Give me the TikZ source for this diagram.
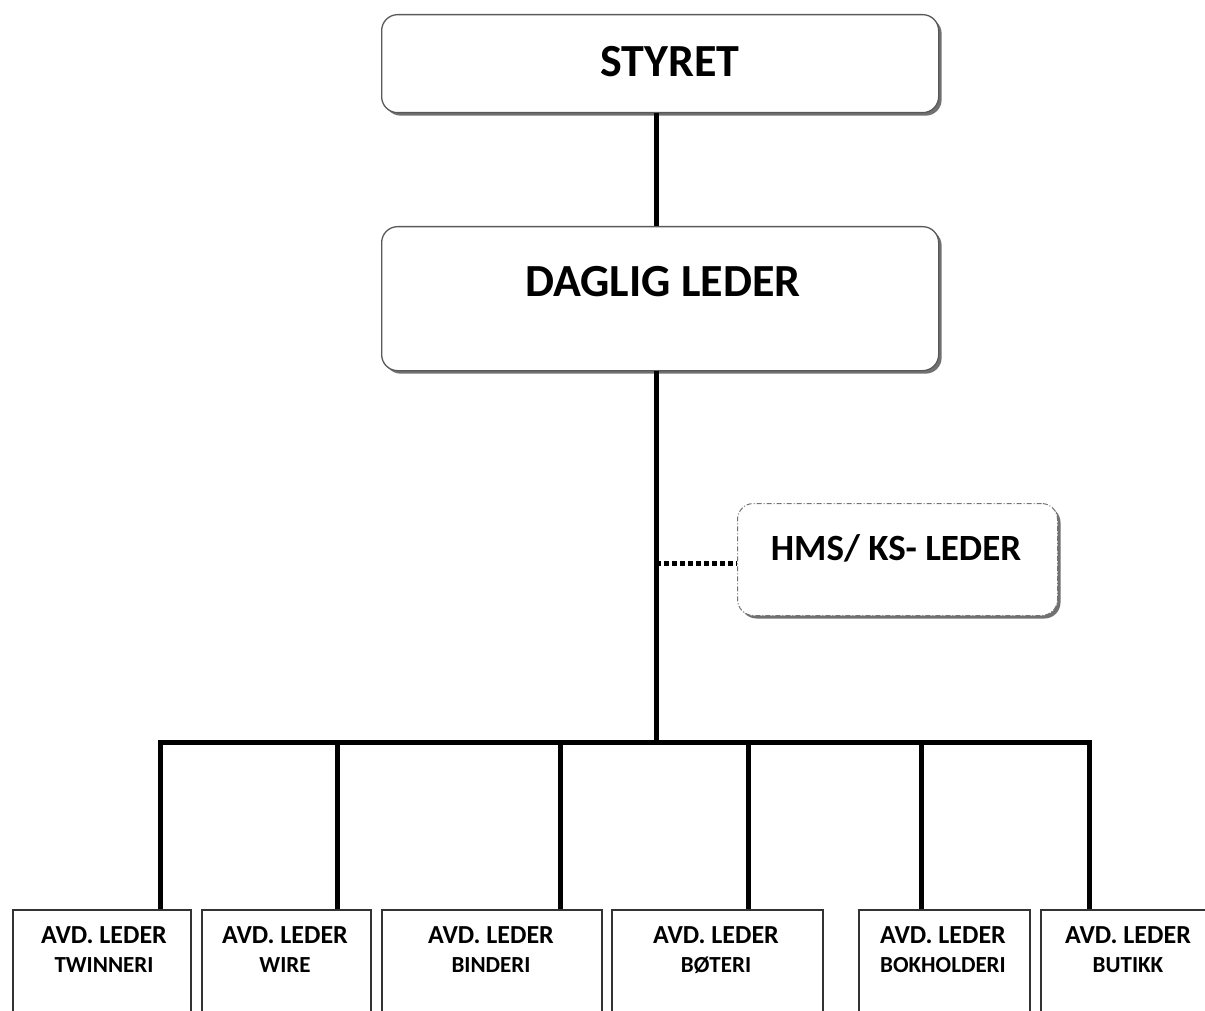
\documentclass[tikz,border=0pt]{standalone}
\usepackage{fontspec}
\setmainfont{Carlito}
\usetikzlibrary{shadows}
\begin{document}
\begin{tikzpicture}[x=1pt,y=-1pt,
  rbox/.style={draw=black!65, line width=1.3pt, rounded corners=16pt, fill=white,
    drop shadow={shadow xshift=3pt, shadow yshift=-3pt, fill=black!65, opacity=0.85},
    anchor=north west, inner sep=0pt},
  hbox/.style={rbox, draw=black!55, line width=1pt, dash pattern=on 5pt off 2pt on 1pt off 2pt},
  sbox/.style={draw=black!80, line width=2pt, fill=white, anchor=north west, inner sep=0pt},
  conn/.style={line width=5pt},
  dotconn/.style={line width=5pt, dash pattern=on 5pt off 3pt},
  bigtxt/.style={font=\bfseries\fontsize{46}{50}\selectfont, inner sep=0pt},
  midtxt/.style={font=\bfseries\fontsize{37}{40}\selectfont, inner sep=0pt},
  t1/.style={font=\bfseries\fontsize{26}{28}\selectfont, inner sep=0pt},
  t2/.style={font=\bfseries\fontsize{23}{25}\selectfont, inner sep=0pt}]
\useasboundingbox (0,0) rectangle (1205,1011);
\clip (0,0) rectangle (1205,1011);
\fill[white] (0,0) rectangle (1205,1011);

% top boxes
\node[rbox, minimum width=557pt, minimum height=98pt] (styret) at (381,14) {};
\node[bigtxt] (styrett) at (670,62) {STYRET};
\node[rbox, minimum width=557pt, minimum height=144pt] (daglig) at (381,226) {};
\node[bigtxt] (dagligt) at (663,282) {DAGLIG LEDER};
\node[hbox, minimum width=320pt, minimum height=112pt] (hms) at (737,503) {};
\node[midtxt] (hmst) at (896,548) {HMS/ KS- LEDER};

% bottom boxes
\node[sbox, minimum width=178pt, minimum height=130pt] (b1) at (12,909) {};
\node[sbox, minimum width=169pt, minimum height=130pt] (b2) at (201,909) {};
\node[sbox, minimum width=220pt, minimum height=130pt] (b3) at (381,909) {};
\node[sbox, minimum width=211pt, minimum height=130pt] (b4) at (611,909) {};
\node[sbox, minimum width=171pt, minimum height=130pt] (b5) at (858,909) {};
\node[sbox, minimum width=176pt, minimum height=130pt] (b6) at (1040,909) {};

\node[t1] (a1) at (104,935) {AVD. LEDER};
\node[t2] (c1) at (104,965) {TWINNERI};
\node[t1] (a2) at (285,935) {AVD. LEDER};
\node[t2] (c2) at (285,965) {WIRE};
\node[t1] (a3) at (491,935) {AVD. LEDER};
\node[t2] (c3) at (491,965) {BINDERI};
\node[t1] (a4) at (716,935) {AVD. LEDER};
\node[t2] (c4) at (716,965) {BØTERI};
\node[t1] (a5) at (943,935) {AVD. LEDER};
\node[t2] (c5) at (943,965) {BOKHOLDERI};
\node[t1] (a6) at (1128,935) {AVD. LEDER};
\node[t2] (c6) at (1128,965) {BUTIKK};

% connector coordinates
\coordinate (j) at (656,742);
\coordinate (d1) at (160,742);
\coordinate (d2) at (337,742);
\coordinate (d3) at (560,742);
\coordinate (d4) at (748,742);
\coordinate (d5) at (921,742);
\coordinate (d6) at (1089,742);
\coordinate (hj) at (656,563);

\draw[conn] (styret.south -| j) -- (daglig.north -| j);
\draw[conn] (daglig.south -| j) -- (j);
\draw[conn, line cap=rect] (d1) -- (d6);
\draw[conn] (d1) -- (d1 |- b1.north);
\draw[conn] (d2) -- (d2 |- b2.north);
\draw[conn] (d3) -- (d3 |- b3.north);
\draw[conn] (d4) -- (d4 |- b4.north);
\draw[conn] (d5) -- (d5 |- b5.north);
\draw[conn] (d6) -- (d6 |- b6.north);
\draw[dotconn] (hj) -- (hj -| hms.west);
\end{tikzpicture}
\end{document}
